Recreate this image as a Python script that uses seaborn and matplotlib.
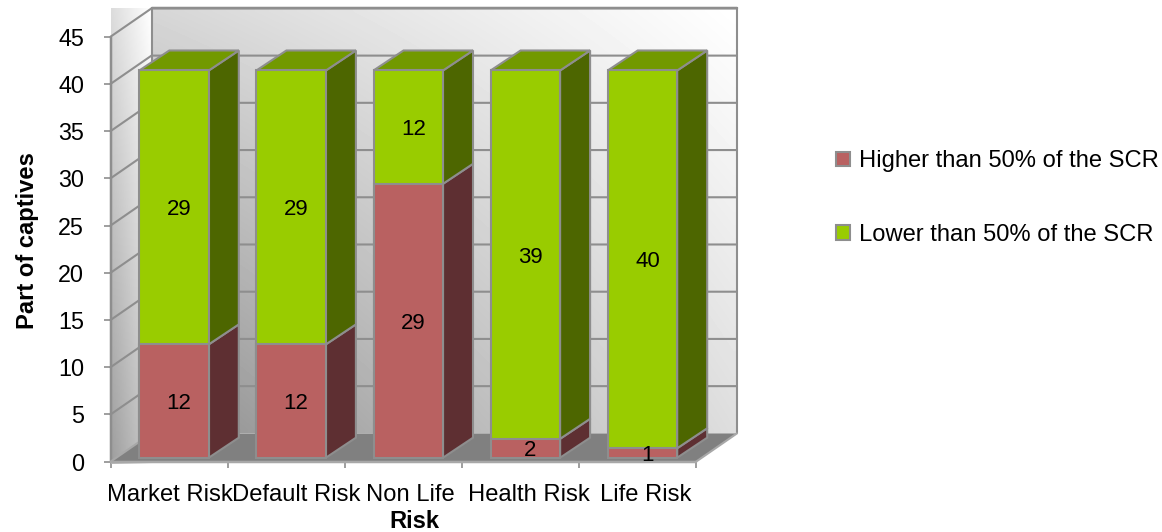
import numpy as np
import pandas as pd
import matplotlib
matplotlib.use("Agg")
import matplotlib.pyplot as plt
from matplotlib.patches import Polygon, Patch
from matplotlib.transforms import ScaledTranslation
import seaborn as sns

categories = ["Market Risk", "Default Risk", "Non Life", "Health Risk", "Life Risk"]
higher = [12, 12, 29, 2, 1]
lower = [29, 29, 12, 39, 40]
y_ticks = [0, 5, 10, 15, 20, 25, 30, 35, 40, 45]
series_names = ["Higher than 50% of the SCR", "Lower than 50% of the SCR"]

sns.set_style("white")
plt.rcParams["font.family"] = ["Liberation Sans", "DejaVu Sans"]
plt.rcParams["text.color"] = "black"
plt.rcParams["axes.labelcolor"] = "black"
plt.rcParams["xtick.labelcolor"] = "black"
plt.rcParams["ytick.labelcolor"] = "black"

W, H = 1162, 532
FONT = 17.1
VALUE_FONT = 16.0
EDGE = "#8e8e8e"
LW = 1.5

# Pixel layout of the plot box and the pseudo-3D projection
PX_LEFT, PX_BOTTOM = 110.5, 461.7
PX_PER_CAT, PX_PER_VAL = 117.1, 9.444
WALL_DX, WALL_DY = 41 / PX_PER_CAT, 3.0
BAR_DX, BAR_DY = 30 / PX_PER_CAT, 20 / PX_PER_VAL
LIFT_X, LIFT_Y = 5 / PX_PER_CAT, 4 / PX_PER_VAL
BAR_WIDTH = 69.5 / PX_PER_CAT

x_min, x_max = -0.5, len(categories) - 0.5
y_max = max(y_ticks)

fig = plt.figure(figsize=(W / 100, H / 100), dpi=100)
ax_w = (x_max - x_min + WALL_DX) * PX_PER_CAT
ax_h = (y_max + WALL_DY) * PX_PER_VAL
ax = fig.add_axes([PX_LEFT / W, (H - PX_BOTTOM) / H, ax_w / W, ax_h / H])
ax.patch.set_visible(False)
xlim = (x_min, x_max + WALL_DX)
ylim = (0, y_max + WALL_DY)


def shaded_rect(x0, x1, y0, y1, corners, z=1):
    """Fill a rectangle with a bilinear grey ramp; corners are TL, TR, BL, BR."""
    tl, tr, bl, br = corners
    u, v = np.meshgrid(np.linspace(0, 1, 64), np.linspace(0, 1, 64))
    shade = (1 - v) * ((1 - u) * tl + u * tr) + v * ((1 - u) * bl + u * br)
    im = ax.imshow(shade, extent=(x0, x1, y0, y1), cmap="gray", vmin=0, vmax=1,
                   aspect="auto", origin="upper", zorder=z, interpolation="bilinear")
    im.set_clip_on(False)


# Back wall, side wall and floor
back_x0, back_x1 = x_min + WALL_DX, x_max + WALL_DX
shaded_rect(back_x0, back_x1, WALL_DY, y_max + WALL_DY, (0.84, 1.0, 0.56, 0.87))
shaded_rect(x_min, back_x0, 0, y_max + WALL_DY, (0.86, 1.0, 0.62, 0.80))
ax.add_patch(Polygon([(x_min, 0), (x_max, 0), (back_x1, WALL_DY), (back_x0, WALL_DY)],
                     closed=True, fc="#808080", ec="none", zorder=1.5))
shaded_rect(x_min, back_x0, -0.28, 0, (0.72, 1.0, 0.72, 1.0), z=1.6)

# Gridlines wrapping around the walls
for t in y_ticks:
    if t > 0:
        ax.plot([x_min, back_x0, back_x1], [t, t + WALL_DY, t + WALL_DY], color=EDGE, lw=LW,
                zorder=2, clip_on=False, solid_joinstyle="miter")
ax.plot([x_min, x_min], [0, y_max], color=EDGE, lw=LW * 1.2, zorder=2, clip_on=False)
ax.plot([back_x0, back_x0], [WALL_DY, y_max + WALL_DY], color=EDGE, lw=LW, zorder=2, clip_on=False)
ax.plot([back_x1, back_x1], [WALL_DY, y_max + WALL_DY], color=EDGE, lw=LW, zorder=2, clip_on=False)
ax.plot([back_x0, back_x1], [y_max + WALL_DY] * 2, color=EDGE, lw=LW * 1.2, zorder=2, clip_on=False)
ax.plot([x_min, back_x0], [0, WALL_DY], color="#a8a8a8", lw=LW, zorder=2, clip_on=False)
ax.plot([x_max, back_x1], [0, WALL_DY], color="#a8a8a8", lw=LW, zorder=2, clip_on=False)
ax.plot([x_min, x_max], [0, 0], color="#a8a8a8", lw=LW * 1.2, zorder=2, clip_on=False)

# Front faces of the stacked bars
positions = np.arange(len(categories)) + LIFT_X
frame = pd.DataFrame({"pos": positions, "higher": higher, "lower": lower})
frame["total"] = frame["higher"] + frame["lower"]
bar_style = dict(width=BAR_WIDTH, native_scale=True, edgecolor=EDGE, linewidth=LW,
                 saturation=1, legend=False, zorder=4, errorbar=None, ax=ax)
sns.barplot(data=frame, x="pos", y="total", color="#99cc00", bottom=LIFT_Y, **bar_style)
sns.barplot(data=frame, x="pos", y="higher", color="#b96161", bottom=LIFT_Y, **bar_style)


def box_side(x, base, top, color):
    right = x + BAR_WIDTH / 2
    ax.add_patch(Polygon([(right, base), (right + BAR_DX, base + BAR_DY),
                          (right + BAR_DX, top + BAR_DY), (right, top)],
                         closed=True, fc=color, ec=EDGE, lw=LW, zorder=3.5, joinstyle="miter"))


# Side and top faces, plus value labels on the front
LABEL_SHIFT = 5 / PX_PER_CAT
for x, hi, lo in zip(positions, higher, lower):
    base, mid, top = LIFT_Y, LIFT_Y + hi, LIFT_Y + hi + lo
    box_side(x, base, mid, "#5e2f32")
    box_side(x, mid, top, "#4d6600")
    left, right = x - BAR_WIDTH / 2, x + BAR_WIDTH / 2
    ax.add_patch(Polygon([(left, top), (right, top), (right + BAR_DX, top + BAR_DY),
                          (left + BAR_DX, top + BAR_DY)],
                         closed=True, fc="#729900", ec=EDGE, lw=LW, zorder=3.5, joinstyle="miter"))
    ax.text(x + LABEL_SHIFT, (base + mid) / 2, str(hi), ha="center", va="center_baseline",
            fontsize=VALUE_FONT, color="black", zorder=6)
    ax.text(x + LABEL_SHIFT, (mid + top) / 2, str(lo), ha="center", va="center_baseline",
            fontsize=VALUE_FONT, color="black", zorder=6)

# Axes, ticks and labels
ax.set_xlim(xlim)
ax.set_ylim(ylim)
sns.despine(ax=ax, left=True, bottom=True, top=True, right=True)
ax.set_yticks(y_ticks)
ax.set_yticklabels([str(t) for t in y_ticks], fontsize=FONT - 0.3)
ax.tick_params(axis="y", which="major", left=True, length=5, width=1.2, color=EDGE, pad=14)
ax.set_xticks(np.arange(len(categories)))
ax.set_xticklabels(categories, fontsize=FONT)
ax.set_xticks(np.arange(len(categories) + 1) - 0.5, minor=True)
ax.tick_params(axis="x", which="major", bottom=False, length=0, pad=16)
ax.tick_params(axis="x", which="minor", bottom=True, length=4.5, width=1.2, color=EDGE)
for label, shift_px in zip(ax.get_xticklabels(), [0.5, 10, 7.5, 9, 8.5]):
    label.set_transform(label.get_transform() + ScaledTranslation(shift_px / 100, 0, fig.dpi_scale_trans))

ax.set_xlabel("Risk", fontsize=FONT, fontweight="bold")
ax.set_ylabel("Part of captives", fontsize=FONT, fontweight="bold")
ax.xaxis.set_label_coords((414 - PX_LEFT) / ax_w, (PX_BOTTOM - 510) / ax_h)
ax.yaxis.set_label_coords((39 - PX_LEFT) / ax_w, (PX_BOTTOM - 241) / ax_h)

# Legend on the right
handles = [Patch(facecolor="#b96161", edgecolor=EDGE, lw=LW, label=series_names[0]),
           Patch(facecolor="#99cc00", edgecolor=EDGE, lw=LW, label=series_names[1])]
fig.legend(handles=handles, loc="upper left", bbox_to_anchor=(836 / W, 1 - 150.5 / H),
           bbox_transform=fig.transFigure, frameon=False, fontsize=FONT, handlelength=0.6,
           handleheight=0.55, handletextpad=0.38, labelspacing=2.17, borderpad=0, borderaxespad=0)

fig.savefig("out.png", dpi=100)
